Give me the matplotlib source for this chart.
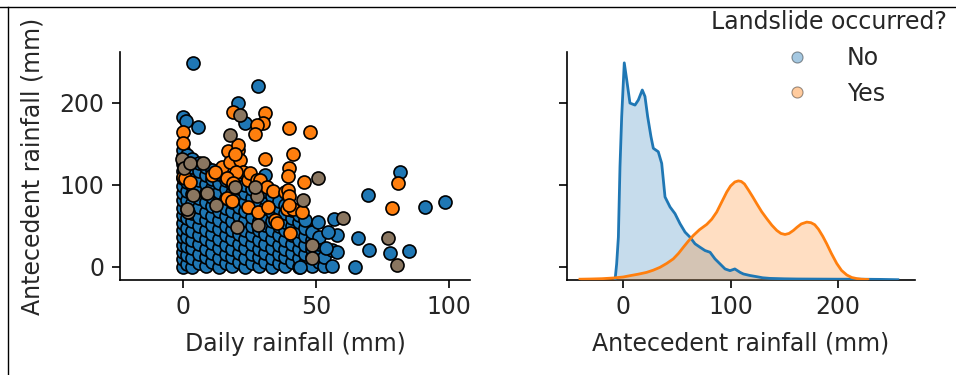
import matplotlib
matplotlib.use("Agg")
import matplotlib.pyplot as plt
from matplotlib.lines import Line2D

# ---------------- data ----------------
# (Daily rainfall mm, Antecedent rainfall mm) for days without landslide
no_points = [
    (0, 0), (0, 9), (0, 18), (0, 27), (0, 36), (0, 45), (0, 54), (0, 63), (0, 72), (0, 81),
    (0, 90), (0, 99), (0, 108), (0, 117), (0, 126), (0, 135), (0, 143),
    (1.5, 4), (1.5, 15), (1.5, 26), (1.5, 37), (1.5, 48), (1.5, 59), (1.5, 70), (1.5, 81),
    (1.5, 92), (1.5, 103), (1.5, 114), (1.5, 125), (1.5, 136),
    (3.5, 0), (3.5, 11), (3.5, 23), (3.5, 33), (3.5, 44), (3.5, 56), (3.5, 66), (3.5, 78),
    (3.5, 89), (3.5, 100), (3.5, 111), (3.5, 122), (3.5, 131),
    (6, 5), (6, 16), (6, 28), (6, 39), (6, 50), (6, 61), (6, 73), (6, 84), (6, 95), (6, 106),
    (6, 117), (6, 127),
    (8.5, 1), (8.5, 12), (8.5, 22), (8.5, 34), (8.5, 45), (8.5, 57), (8.5, 67), (8.5, 79),
    (8.5, 90), (8.5, 101), (8.5, 112), (8.5, 122),
    (11, 6), (11, 17), (11, 29), (11, 40), (11, 51), (11, 62), (11, 74), (11, 85), (11, 96),
    (11, 107), (11, 118),
    (13.5, 0), (13.5, 11), (13.5, 23), (13.5, 34), (13.5, 46), (13.5, 57), (13.5, 68),
    (13.5, 80), (13.5, 91), (13.5, 102), (13.5, 113),
    (16, 5), (16, 16), (16, 27), (16, 39), (16, 50), (16, 62), (16, 72), (16, 84), (16, 95),
    (16, 106),
    (18.5, 1), (18.5, 12), (18.5, 22), (18.5, 34), (18.5, 45), (18.5, 56), (18.5, 68),
    (18.5, 79), (18.5, 90), (18.5, 101), (18.5, 110),
    (21, 6), (21, 17), (21, 28), (21, 40), (21, 51), (21, 62), (21, 73), (21, 85), (21, 96),
    (21, 105),
    (23.5, 0), (23.5, 11), (23.5, 23), (23.5, 34), (23.5, 45), (23.5, 57), (23.5, 68),
    (23.5, 79), (23.5, 90), (23.5, 100),
    (26, 5), (26, 16), (26, 28), (26, 39), (26, 50), (26, 61), (26, 73), (26, 84), (26, 95),
    (28.5, 1), (28.5, 12), (28.5, 22), (28.5, 33), (28.5, 45), (28.5, 56), (28.5, 67),
    (28.5, 78), (28.5, 89),
    (31, 6), (31, 17), (31, 28), (31, 40), (31, 51), (31, 62), (31, 72), (31, 84), (31, 92),
    (33.5, 0), (33.5, 11), (33.5, 23), (33.5, 34), (33.5, 45), (33.5, 56), (33.5, 67),
    (33.5, 78), (33.5, 87),
    (36, 5), (36, 16), (36, 27), (36, 39), (36, 50), (36, 61), (36, 72), (36, 80),
    (38.5, 1), (38.5, 12), (38.5, 22), (38.5, 33), (38.5, 45), (38.5, 55), (38.5, 66), (38.5, 76),
    (41, 6), (41, 17), (41, 28), (41, 39), (41, 50), (41, 60), (41, 69),
    (43.5, 0), (43.5, 11), (43.5, 22), (43.5, 33), (43.5, 44), (43.5, 55), (43.5, 63),
    (46, 5), (46, 16), (46, 27), (46, 38), (46, 48), (46, 57),
    (48.5, 1), (48.5, 12), (48.5, 22), (48.5, 33), (48.5, 42),
    (51, 6), (51, 17), (51, 28), (51, 36),
    (53, 1), (53, 12),
    (3.8, 248), (28.3, 221), (20.7, 200), (23.3, 175), (5.7, 171), (0, 183), (1, 178),
    (30.8, 112), (50.8, 55), (57, 58), (58, 39), (54.5, 43), (66, 35), (70, 21), (78, 17),
    (85, 19), (64.6, 0), (81.6, 116), (69.5, 88), (91, 73), (98.5, 79), (56, 21), (58, 18),
    (56, 1), (54, 23), (44, 0),
]

# days with a landslide
yes_points = [
    (18.9, 189), (30.8, 188), (30, 175), (28, 173), (27, 162), (40, 169), (47.7, 164),
    (30.8, 132), (41.3, 138), (40, 121), (39.5, 111), (45.5, 103), (0, 164), (0, 151),
    (17, 141), (20.7, 143), (20.7, 149), (0, 110), (0.7, 108), (2.6, 104), (10.8, 112),
    (14.5, 122), (17.7, 128), (21.4, 130), (22.6, 116), (20, 116), (16.4, 108), (19, 102),
    (24.4, 106), (25.2, 114), (27.7, 106), (29, 106), (31.8, 98), (34, 93), (38.3, 91),
    (39.5, 94), (40, 86), (16.4, 84), (18.3, 80), (24.5, 73), (28.3, 67), (32, 73),
    (34.6, 57), (35.5, 53), (39, 70), (41.4, 70), (44.6, 67), (40, 76), (40.2, 41),
    (81, 102), (78.6, 72), (12, 116), (19.5, 138),
]

# landslide days that coincide with non-landslide days (drawn as mixed colour)
yes_overlap_points = [
    (17.7, 161), (21.4, 185), (-0.5, 132), (0.5, 121), (2.6, 127), (7.5, 127), (3.8, 88),
    (8.9, 90), (1.9, 67), (1.5, 70), (12.5, 76), (20.3, 49), (28.3, 51), (27.7, 86),
    (50.9, 108), (45.2, 82), (48.4, 27), (48.4, 11), (19.5, 98), (60.3, 59), (77, 35),
    (80.5, 2), (27, 98),
]

# KDE of antecedent rainfall (relative density)
kde_no_x = [-7.7, -6.2, -4.6, -3.1, -1.5, 0.9, 3.2, 6.2, 10.9, 14.0, 17.7, 20.2, 22.7, 25.8,
            28.0, 32.6, 35.8, 38.9, 43.6, 48.2, 52.9, 57.6, 62.2, 66.9, 71.5, 76.2, 80.9,
            85.5, 90.2, 94.9, 99.5, 104.0, 108.9, 112.0, 118, 124.4, 130, 136.8, 150, 161.7,
            180, 200, 220, 240, 256]
kde_no_density = [0, 16, 42.6, 112.6, 162.6, 216, 199, 176, 174, 179, 189, 182.6, 162.6, 142.6,
                  131, 127.6, 116, 82.6, 72.6, 66, 56, 47.6, 42.6, 36, 32.6, 29.3, 27.6,
                  21, 16, 11, 9.3, 11, 7.6, 6, 4.5, 3.3, 2.2, 1.6, 1.2, 1,
                  0.9, 0.8, 0.8, 0.6, 0.3]
kde_yes_x = [-40.4, -30, -20, -9.3, 0, 6.2, 14, 21.8, 28, 34.2, 40.5, 46.6, 51.5, 56, 60.5,
             65.3, 71, 77.8, 82.5, 87.1, 91.5, 96.5, 100, 104, 107.3, 110, 113, 117, 120.5,
             124.4, 129, 133.8, 138.5, 143.1, 147, 150.8, 154.5, 158.6, 162, 166, 171.1, 175,
             178.5, 182, 186, 189.7, 194, 199, 203.5, 208.4, 213, 217.7, 222, 228]
kde_yes_density = [0.8, 1.0, 1.3, 2, 3, 4.3, 5.8, 7.6, 9.8, 12.6, 16.5, 21, 26.5, 32.6, 38.5,
                   44.3, 50, 55.3, 60.5, 67.6, 77, 87.6, 93.5, 97.5, 98.6, 98, 95.5, 89, 83,
                   76, 68, 61, 54.5, 49.3, 46.3, 45.3, 46.3, 49.3, 52.5, 55.8, 57.6, 57,
                   55, 50.5, 43.5, 36, 26.5, 16.5, 9.5, 5, 2.5, 1.4, 0.8, 0.5]

categories = ["No", "Yes"]
legend_title = "Landslide occurred?"
xlabel_left = "Daily rainfall (mm)"
xlabel_right = "Antecedent rainfall (mm)"
ylabel = "Antecedent rainfall (mm)"
x_ticks_left = [0, 50, 100]
x_ticks_right = [0, 100, 200]
y_ticks = [0, 100, 200]

# ---------------- styling ----------------
BLUE = "#1f77b4"
ORANGE = "#ff7f0e"
MIXED = "#8a7660"
TEXT = "#262626"
FS = 17

plt.rcParams["font.family"] = ["DejaVu Sans"]
plt.rcParams["font.size"] = FS
plt.rcParams["text.color"] = TEXT
plt.rcParams["axes.labelcolor"] = TEXT
plt.rcParams["xtick.labelcolor"] = TEXT
plt.rcParams["ytick.labelcolor"] = TEXT

W, H = 956, 375
fig = plt.figure(figsize=(W / 100, H / 100), dpi=100)

def fx(px):
    return px / W

def fy(py):
    return 1 - py / H

ax1 = fig.add_axes([fx(120), fy(280), fx(470) - fx(120), fy(52) - fy(280)])
ax2 = fig.add_axes([fx(567), fy(280), fx(915) - fx(567), fy(52) - fy(280)], sharey=ax1)

marker_s = 88
lw_edge = 1.2
nx, ny = zip(*no_points)
yx, yy = zip(*yes_points)
ox, oy = zip(*yes_overlap_points)
ax1.scatter(nx, ny, s=marker_s, c=BLUE, edgecolors="black", linewidths=lw_edge, zorder=2)
ax1.scatter(yx, yy, s=marker_s, c=ORANGE, edgecolors="black", linewidths=lw_edge, zorder=3)
ax1.scatter(ox, oy, s=marker_s, c=MIXED, edgecolors="black", linewidths=lw_edge, zorder=4)

ax1.set_xlim(-23.7, 108)
ax1.set_ylim(-16, 262)
ax1.set_xticks(x_ticks_left)
ax1.set_yticks(y_ticks)
ax1.set_xlabel(xlabel_left, labelpad=9)
ax1.set_ylabel(ylabel, labelpad=11)

# diagonal KDE on a twin axis
ax2k = ax2.twinx()
ax2k.fill_between(kde_no_x, kde_no_density, color=BLUE, alpha=0.25, linewidth=0)
ax2k.plot(kde_no_x, kde_no_density, color=BLUE, lw=2)
ax2k.fill_between(kde_yes_x, kde_yes_density, color=ORANGE, alpha=0.25, linewidth=0)
ax2k.plot(kde_yes_x, kde_yes_density, color=ORANGE, lw=2)
ax2k.set_ylim(0, max(kde_no_density) * 1.05)
ax2k.set_yticks([])
for sp in ax2k.spines.values():
    sp.set_visible(False)

ax2.set_xlim(-52.5, 272)
ax2.set_xticks(x_ticks_right)
ax2.set_xlabel(xlabel_right, labelpad=9)
ax2.tick_params(axis="y", labelleft=False)

for ax in (ax1, ax2):
    for side in ("top", "right"):
        ax.spines[side].set_visible(False)
    for side in ("left", "bottom"):
        ax.spines[side].set_linewidth(1.2)
    ax.tick_params(length=6, width=1.2, labelsize=FS, pad=5)

handles = [
    Line2D([], [], marker="o", linestyle="", markersize=8, markerfacecolor=BLUE,
           markeredgecolor="black", markeredgewidth=0.8, alpha=0.4),
    Line2D([], [], marker="o", linestyle="", markersize=8, markerfacecolor=ORANGE,
           markeredgecolor="black", markeredgewidth=0.8, alpha=0.4),
]
fig.legend(handles, categories, title=legend_title, loc="upper right",
           bbox_to_anchor=(fx(947), fy(10)), frameon=False, fontsize=FS,
           title_fontsize=FS, borderpad=0, borderaxespad=0, handletextpad=1.1,
           labelspacing=0.5)

# screenshot border lines
fig.add_artist(Line2D([0, 1], [fy(7), fy(7)], color="black", lw=1, transform=fig.transFigure))
fig.add_artist(Line2D([fx(7.5), fx(7.5)], [0, fy(7)], color="black", lw=1, transform=fig.transFigure))

fig.savefig("out.png", dpi=100)
